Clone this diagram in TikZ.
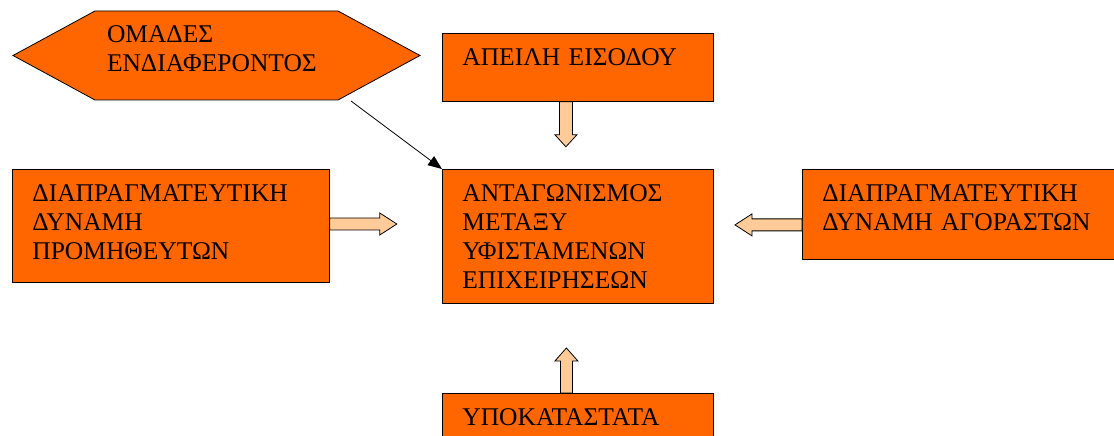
\documentclass[tikz,border=0pt]{standalone}
\usepackage{fontspec}
\setmainfont{Liberation Serif}
\usetikzlibrary{shapes.symbols,arrows.meta}
\definecolor{boxorange}{HTML}{FF6600}
\definecolor{peach}{HTML}{FFCC99}

\begin{document}
\begin{tikzpicture}[x=1pt,y=1pt,
    box/.style={draw, fill=boxorange, line width=0.8pt, anchor=north west, align=left,
        inner xsep=20pt, inner ysep=6pt, text height=26pt, font=\fontsize{25.5}{29}\selectfont},
    blockarrow/.style={draw, fill=peach, line width=0.8pt}]
    \useasboundingbox (0,0) rectangle (1114,436);

    % ομάδες ενδιαφέροντος
    \node[box, signal, signal to=west and east, signal pointer angle=57, anchor=center,
        minimum width=407pt, minimum height=89pt, inner sep=0pt, text width=219pt, text depth=51pt]
        (omades) at (216.5,380.5) {ΟΜΑΔΕΣ\\ΕΝΔΙΑΦΕΡΟΝΤΟΣ};
    \coordinate (omadesend) at (351,335);

    % κουτιά
    \node[box, text width=231pt, text depth=30pt] (apeili) at (442,403) {ΑΠΕΙΛΗ ΕΙΣΟΔΟΥ};
    \node[box, text width=231pt, text depth=96pt] (antag) at (442,267)
        {ΑΝΤΑΓΩΝΙΣΜΟΣ\\ΜΕΤΑΞΥ\\ΥΦΙΣΤΑΜΕΝΩΝ\\ΕΠΙΧΕΙΡΗΣΕΩΝ};
    \node[box, text width=277pt, text depth=75pt] (prom) at (12,267)
        {ΔΙΑΠΡΑΓΜΑΤΕΥΤΙΚΗ\\ΔΥΝΑΜΗ\\ΠΡΟΜΗΘΕΥΤΩΝ};
    \node[box, text width=276pt, text depth=52pt] (agor) at (802,267)
        {ΔΙΑΠΡΑΓΜΑΤΕΥΤΙΚΗ\\ΔΥΝΑΜΗ ΑΓΟΡΑΣΤΩΝ};
    \node[box, text width=231pt, text depth=32pt] (ypok) at (442,43) {ΥΠΟΚΑΤΑΣΤΑΤΑ};

    % βέλη
    \draw[line width=0.8pt, -{Triangle[length=14pt,width=11pt]}] (omadesend) -- (antag.north west);
    \draw[blockarrow] ([xshift=-18.5pt]apeili.south) -- ++(0,-33) -- ++(-4.5,0) -- ++(11,-12)
        -- ++(11,12) -- ++(-4.5,0) -- ++(0,33) -- cycle;
    \draw[blockarrow] ([xshift=-17.5pt]ypok.north) -- ++(0,32) -- ++(-5.5,0) -- ++(11.5,13)
        -- ++(11.5,-13) -- ++(-5.5,0) -- ++(0,-32) -- cycle;
    \draw[blockarrow] (prom.north east) ++(0,-49) -- ++(50,0) -- ++(0,5) -- ++(17,-11)
        -- ++(-17,-11) -- ++(0,5) -- ++(-50,0) -- cycle;
    \draw[blockarrow] ([yshift=-4.5pt]agor.west) -- ++(-50,0) -- ++(0,5) -- ++(-17,-11)
        -- ++(17,-11) -- ++(0,5) -- ++(50,0) -- cycle;
\end{tikzpicture}
\end{document}
